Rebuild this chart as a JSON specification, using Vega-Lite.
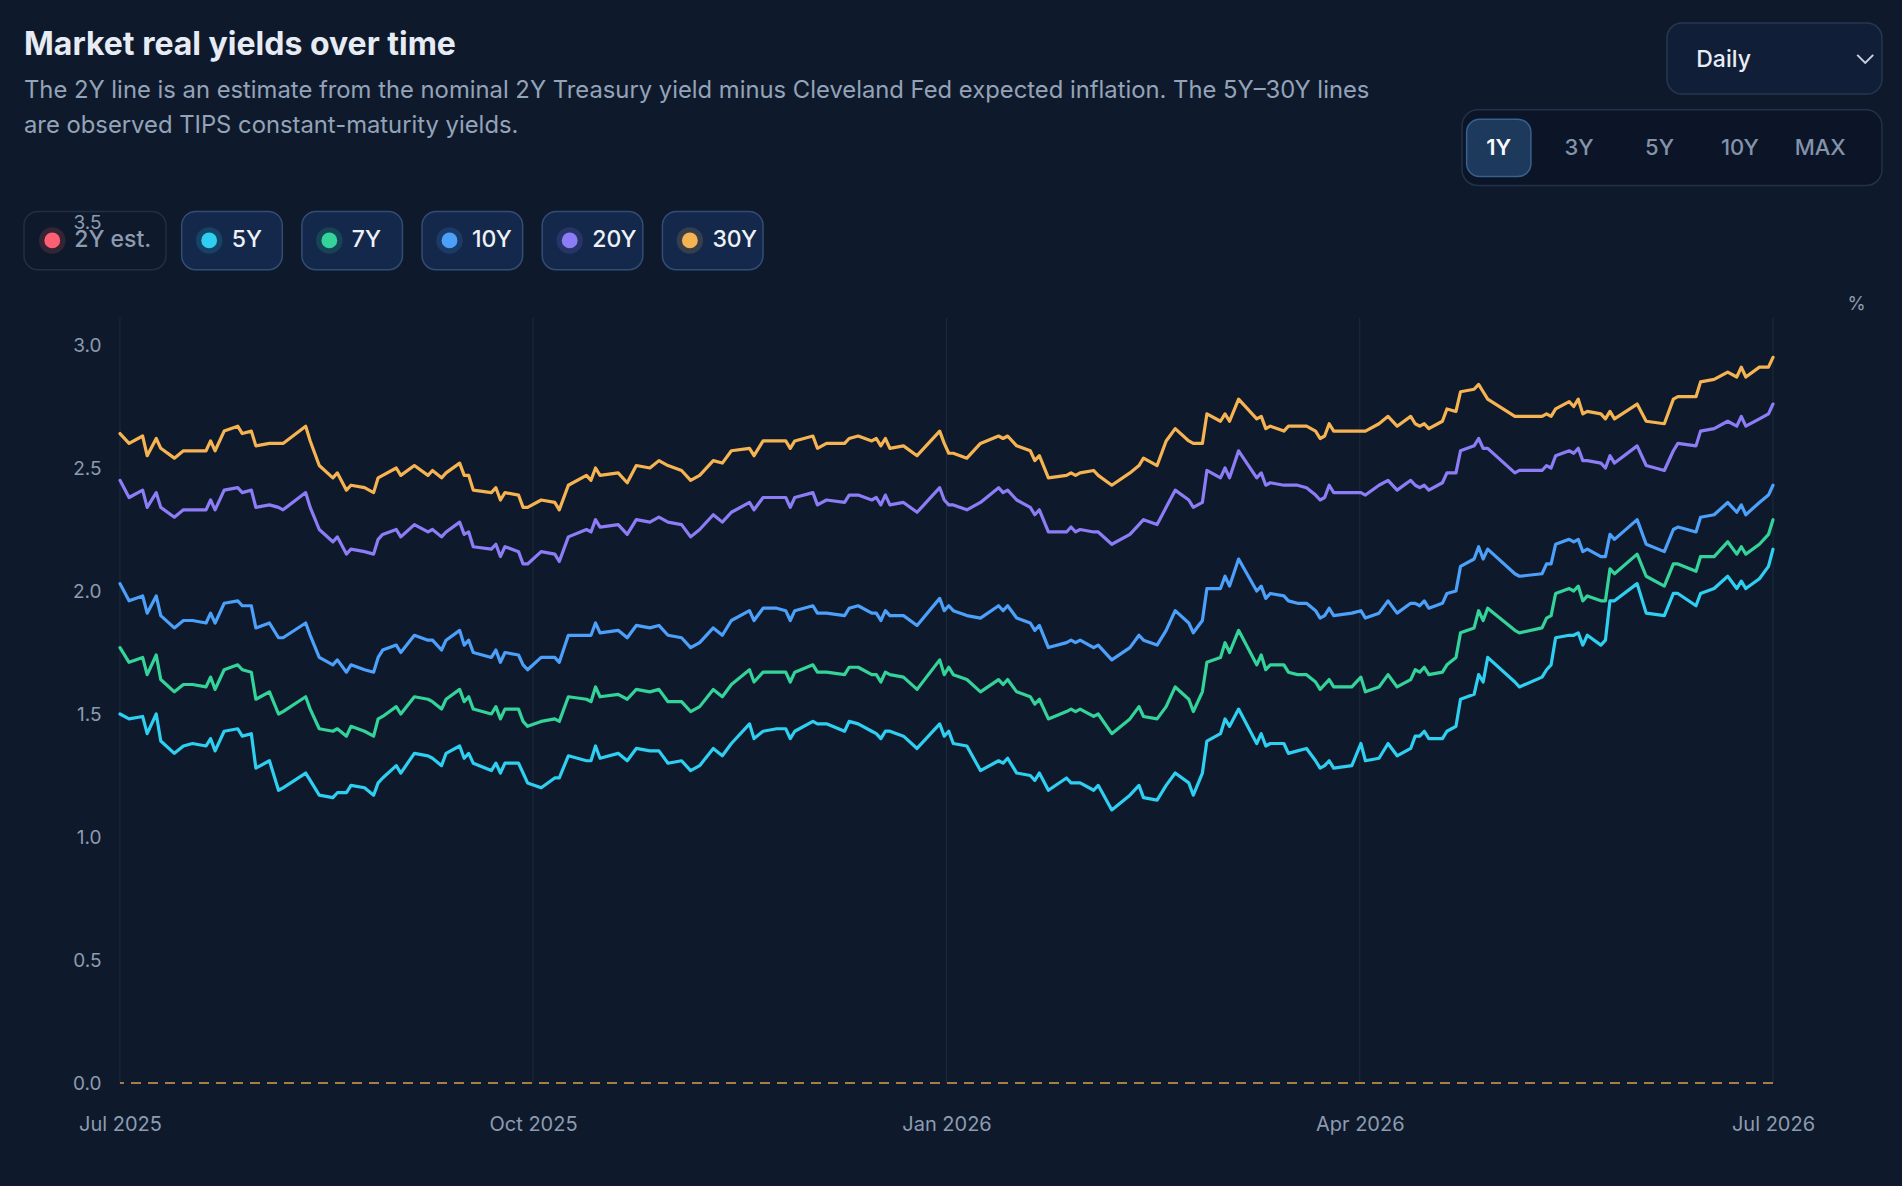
{
  "$schema": "https://vega.github.io/schema/vega-lite/v6.json",
  "width": 1653,
  "height": 861,
  "autosize": {"type": "none"},
  "padding": {"left": 120, "top": 222, "right": 129, "bottom": 103},
  "background": "#0e1a2c",
  "title": {
    "text": "Market real yields over time",
    "subtitle": [
      "The 2Y line is an estimate from the nominal 2Y Treasury yield minus Cleveland Fed expected inflation. The 5Y–30Y lines",
      "are observed TIPS constant-maturity yields."
    ],
    "anchor": "start",
    "frame": "group",
    "dx": -96,
    "offset": -116.5,
    "font": "Inter",
    "fontSize": 32,
    "fontWeight": 700,
    "color": "#e7ecf4",
    "subtitleFont": "Inter",
    "subtitleFontSize": 23.8,
    "subtitleColor": "#94a3b8",
    "subtitleLineHeight": 35,
    "subtitlePadding": 17
  },
  "config": {
    "font": "Inter",
    "view": {"stroke": null}
  },
  "datasets": {
    "yields": [
      {"d": "2025-07-01", "5Y": 1.50, "7Y": 1.77, "10Y": 2.03, "20Y": 2.45, "30Y": 2.64},
      {"d": "2025-07-03", "5Y": 1.48, "7Y": 1.71, "10Y": 1.96, "20Y": 2.38, "30Y": 2.60},
      {"d": "2025-07-06", "5Y": 1.49, "7Y": 1.73, "10Y": 1.98, "20Y": 2.41, "30Y": 2.63},
      {"d": "2025-07-07", "5Y": 1.42, "7Y": 1.66, "10Y": 1.91, "20Y": 2.34, "30Y": 2.55},
      {"d": "2025-07-09", "5Y": 1.50, "7Y": 1.74, "10Y": 1.98, "20Y": 2.40, "30Y": 2.62},
      {"d": "2025-07-10", "5Y": 1.39, "7Y": 1.64, "10Y": 1.90, "20Y": 2.34, "30Y": 2.58},
      {"d": "2025-07-13", "5Y": 1.34, "7Y": 1.59, "10Y": 1.85, "20Y": 2.30, "30Y": 2.54},
      {"d": "2025-07-15", "5Y": 1.37, "7Y": 1.62, "10Y": 1.88, "20Y": 2.33, "30Y": 2.57},
      {"d": "2025-07-17", "5Y": 1.38, "7Y": 1.62, "10Y": 1.88, "20Y": 2.33, "30Y": 2.57},
      {"d": "2025-07-20", "5Y": 1.37, "7Y": 1.61, "10Y": 1.87, "20Y": 2.33, "30Y": 2.57},
      {"d": "2025-07-21", "5Y": 1.40, "7Y": 1.65, "10Y": 1.91, "20Y": 2.37, "30Y": 2.61},
      {"d": "2025-07-22", "5Y": 1.35, "7Y": 1.60, "10Y": 1.87, "20Y": 2.33, "30Y": 2.57},
      {"d": "2025-07-24", "5Y": 1.43, "7Y": 1.68, "10Y": 1.95, "20Y": 2.41, "30Y": 2.65},
      {"d": "2025-07-27", "5Y": 1.44, "7Y": 1.70, "10Y": 1.96, "20Y": 2.42, "30Y": 2.67},
      {"d": "2025-07-28", "5Y": 1.41, "7Y": 1.68, "10Y": 1.94, "20Y": 2.40, "30Y": 2.64},
      {"d": "2025-07-30", "5Y": 1.42, "7Y": 1.67, "10Y": 1.94, "20Y": 2.41, "30Y": 2.65},
      {"d": "2025-07-31", "5Y": 1.28, "7Y": 1.56, "10Y": 1.85, "20Y": 2.34, "30Y": 2.59},
      {"d": "2025-08-03", "5Y": 1.31, "7Y": 1.59, "10Y": 1.87, "20Y": 2.35, "30Y": 2.60},
      {"d": "2025-08-05", "5Y": 1.19, "7Y": 1.50, "10Y": 1.81, "20Y": 2.34, "30Y": 2.60},
      {"d": "2025-08-06", "5Y": 1.20, "7Y": 1.51, "10Y": 1.81, "20Y": 2.33, "30Y": 2.60},
      {"d": "2025-08-11", "5Y": 1.26, "7Y": 1.57, "10Y": 1.87, "20Y": 2.40, "30Y": 2.67},
      {"d": "2025-08-12", "5Y": 1.23, "7Y": 1.52, "10Y": 1.82, "20Y": 2.34, "30Y": 2.61},
      {"d": "2025-08-14", "5Y": 1.17, "7Y": 1.44, "10Y": 1.73, "20Y": 2.25, "30Y": 2.51},
      {"d": "2025-08-17", "5Y": 1.16, "7Y": 1.43, "10Y": 1.70, "20Y": 2.20, "30Y": 2.46},
      {"d": "2025-08-18", "5Y": 1.18, "7Y": 1.44, "10Y": 1.72, "20Y": 2.22, "30Y": 2.48},
      {"d": "2025-08-20", "5Y": 1.18, "7Y": 1.41, "10Y": 1.67, "20Y": 2.15, "30Y": 2.41},
      {"d": "2025-08-21", "5Y": 1.21, "7Y": 1.45, "10Y": 1.70, "20Y": 2.17, "30Y": 2.43},
      {"d": "2025-08-24", "5Y": 1.20, "7Y": 1.43, "10Y": 1.68, "20Y": 2.16, "30Y": 2.42},
      {"d": "2025-08-26", "5Y": 1.17, "7Y": 1.41, "10Y": 1.67, "20Y": 2.15, "30Y": 2.40},
      {"d": "2025-08-27", "5Y": 1.22, "7Y": 1.48, "10Y": 1.73, "20Y": 2.21, "30Y": 2.46},
      {"d": "2025-08-28", "5Y": 1.24, "7Y": 1.49, "10Y": 1.76, "20Y": 2.23, "30Y": 2.47},
      {"d": "2025-08-31", "5Y": 1.29, "7Y": 1.53, "10Y": 1.78, "20Y": 2.25, "30Y": 2.50},
      {"d": "2025-09-01", "5Y": 1.26, "7Y": 1.50, "10Y": 1.75, "20Y": 2.22, "30Y": 2.47},
      {"d": "2025-09-04", "5Y": 1.34, "7Y": 1.57, "10Y": 1.82, "20Y": 2.27, "30Y": 2.51},
      {"d": "2025-09-07", "5Y": 1.33, "7Y": 1.56, "10Y": 1.80, "20Y": 2.24, "30Y": 2.47},
      {"d": "2025-09-08", "5Y": 1.32, "7Y": 1.55, "10Y": 1.80, "20Y": 2.25, "30Y": 2.49},
      {"d": "2025-09-10", "5Y": 1.29, "7Y": 1.52, "10Y": 1.76, "20Y": 2.22, "30Y": 2.46},
      {"d": "2025-09-11", "5Y": 1.34, "7Y": 1.56, "10Y": 1.80, "20Y": 2.24, "30Y": 2.48},
      {"d": "2025-09-14", "5Y": 1.37, "7Y": 1.60, "10Y": 1.84, "20Y": 2.28, "30Y": 2.52},
      {"d": "2025-09-15", "5Y": 1.32, "7Y": 1.55, "10Y": 1.78, "20Y": 2.23, "30Y": 2.47},
      {"d": "2025-09-16", "5Y": 1.34, "7Y": 1.57, "10Y": 1.80, "20Y": 2.24, "30Y": 2.47},
      {"d": "2025-09-17", "5Y": 1.30, "7Y": 1.52, "10Y": 1.75, "20Y": 2.18, "30Y": 2.41},
      {"d": "2025-09-21", "5Y": 1.27, "7Y": 1.50, "10Y": 1.73, "20Y": 2.17, "30Y": 2.40},
      {"d": "2025-09-22", "5Y": 1.30, "7Y": 1.53, "10Y": 1.76, "20Y": 2.19, "30Y": 2.42},
      {"d": "2025-09-23", "5Y": 1.26, "7Y": 1.48, "10Y": 1.71, "20Y": 2.14, "30Y": 2.37},
      {"d": "2025-09-24", "5Y": 1.30, "7Y": 1.52, "10Y": 1.75, "20Y": 2.18, "30Y": 2.40},
      {"d": "2025-09-27", "5Y": 1.30, "7Y": 1.52, "10Y": 1.74, "20Y": 2.16, "30Y": 2.39},
      {"d": "2025-09-28", "5Y": 1.26, "7Y": 1.47, "10Y": 1.70, "20Y": 2.11, "30Y": 2.34},
      {"d": "2025-09-29", "5Y": 1.22, "7Y": 1.45, "10Y": 1.68, "20Y": 2.11, "30Y": 2.34},
      {"d": "2025-10-02", "5Y": 1.20, "7Y": 1.47, "10Y": 1.73, "20Y": 2.16, "30Y": 2.37},
      {"d": "2025-10-05", "5Y": 1.24, "7Y": 1.48, "10Y": 1.73, "20Y": 2.15, "30Y": 2.36},
      {"d": "2025-10-06", "5Y": 1.24, "7Y": 1.47, "10Y": 1.71, "20Y": 2.12, "30Y": 2.33},
      {"d": "2025-10-08", "5Y": 1.33, "7Y": 1.57, "10Y": 1.82, "20Y": 2.22, "30Y": 2.43},
      {"d": "2025-10-12", "5Y": 1.31, "7Y": 1.56, "10Y": 1.82, "20Y": 2.25, "30Y": 2.47},
      {"d": "2025-10-13", "5Y": 1.31, "7Y": 1.55, "10Y": 1.82, "20Y": 2.24, "30Y": 2.45},
      {"d": "2025-10-14", "5Y": 1.37, "7Y": 1.61, "10Y": 1.87, "20Y": 2.29, "30Y": 2.50},
      {"d": "2025-10-15", "5Y": 1.32, "7Y": 1.57, "10Y": 1.83, "20Y": 2.26, "30Y": 2.47},
      {"d": "2025-10-19", "5Y": 1.34, "7Y": 1.58, "10Y": 1.84, "20Y": 2.27, "30Y": 2.48},
      {"d": "2025-10-21", "5Y": 1.31, "7Y": 1.56, "10Y": 1.81, "20Y": 2.23, "30Y": 2.44},
      {"d": "2025-10-23", "5Y": 1.36, "7Y": 1.60, "10Y": 1.86, "20Y": 2.29, "30Y": 2.51},
      {"d": "2025-10-26", "5Y": 1.35, "7Y": 1.59, "10Y": 1.85, "20Y": 2.28, "30Y": 2.50},
      {"d": "2025-10-28", "5Y": 1.35, "7Y": 1.60, "10Y": 1.86, "20Y": 2.30, "30Y": 2.53},
      {"d": "2025-10-30", "5Y": 1.30, "7Y": 1.55, "10Y": 1.82, "20Y": 2.28, "30Y": 2.51},
      {"d": "2025-11-02", "5Y": 1.31, "7Y": 1.55, "10Y": 1.81, "20Y": 2.27, "30Y": 2.49},
      {"d": "2025-11-04", "5Y": 1.27, "7Y": 1.51, "10Y": 1.77, "20Y": 2.22, "30Y": 2.45},
      {"d": "2025-11-06", "5Y": 1.29, "7Y": 1.53, "10Y": 1.79, "20Y": 2.25, "30Y": 2.47},
      {"d": "2025-11-09", "5Y": 1.36, "7Y": 1.60, "10Y": 1.85, "20Y": 2.31, "30Y": 2.53},
      {"d": "2025-11-11", "5Y": 1.33, "7Y": 1.57, "10Y": 1.82, "20Y": 2.28, "30Y": 2.52},
      {"d": "2025-11-13", "5Y": 1.38, "7Y": 1.62, "10Y": 1.88, "20Y": 2.32, "30Y": 2.57},
      {"d": "2025-11-17", "5Y": 1.46, "7Y": 1.68, "10Y": 1.92, "20Y": 2.36, "30Y": 2.58},
      {"d": "2025-11-18", "5Y": 1.40, "7Y": 1.63, "10Y": 1.88, "20Y": 2.33, "30Y": 2.55},
      {"d": "2025-11-20", "5Y": 1.43, "7Y": 1.67, "10Y": 1.93, "20Y": 2.38, "30Y": 2.61},
      {"d": "2025-11-23", "5Y": 1.44, "7Y": 1.67, "10Y": 1.93, "20Y": 2.38, "30Y": 2.61},
      {"d": "2025-11-25", "5Y": 1.44, "7Y": 1.67, "10Y": 1.92, "20Y": 2.38, "30Y": 2.61},
      {"d": "2025-11-26", "5Y": 1.40, "7Y": 1.63, "10Y": 1.88, "20Y": 2.34, "30Y": 2.58},
      {"d": "2025-11-27", "5Y": 1.43, "7Y": 1.67, "10Y": 1.92, "20Y": 2.38, "30Y": 2.61},
      {"d": "2025-12-01", "5Y": 1.47, "7Y": 1.70, "10Y": 1.94, "20Y": 2.40, "30Y": 2.63},
      {"d": "2025-12-02", "5Y": 1.46, "7Y": 1.67, "10Y": 1.91, "20Y": 2.35, "30Y": 2.58},
      {"d": "2025-12-04", "5Y": 1.46, "7Y": 1.67, "10Y": 1.91, "20Y": 2.37, "30Y": 2.60},
      {"d": "2025-12-08", "5Y": 1.43, "7Y": 1.66, "10Y": 1.90, "20Y": 2.36, "30Y": 2.60},
      {"d": "2025-12-09", "5Y": 1.47, "7Y": 1.69, "10Y": 1.93, "20Y": 2.39, "30Y": 2.62},
      {"d": "2025-12-11", "5Y": 1.46, "7Y": 1.69, "10Y": 1.94, "20Y": 2.39, "30Y": 2.63},
      {"d": "2025-12-14", "5Y": 1.43, "7Y": 1.66, "10Y": 1.91, "20Y": 2.37, "30Y": 2.61},
      {"d": "2025-12-15", "5Y": 1.42, "7Y": 1.66, "10Y": 1.91, "20Y": 2.38, "30Y": 2.62},
      {"d": "2025-12-16", "5Y": 1.40, "7Y": 1.63, "10Y": 1.88, "20Y": 2.35, "30Y": 2.59},
      {"d": "2025-12-17", "5Y": 1.43, "7Y": 1.67, "10Y": 1.92, "20Y": 2.39, "30Y": 2.62},
      {"d": "2025-12-18", "5Y": 1.43, "7Y": 1.66, "10Y": 1.90, "20Y": 2.35, "30Y": 2.58},
      {"d": "2025-12-21", "5Y": 1.41, "7Y": 1.65, "10Y": 1.90, "20Y": 2.36, "30Y": 2.59},
      {"d": "2025-12-24", "5Y": 1.36, "7Y": 1.60, "10Y": 1.86, "20Y": 2.32, "30Y": 2.55},
      {"d": "2025-12-29", "5Y": 1.46, "7Y": 1.72, "10Y": 1.97, "20Y": 2.42, "30Y": 2.65},
      {"d": "2025-12-30", "5Y": 1.41, "7Y": 1.66, "10Y": 1.92, "20Y": 2.37, "30Y": 2.60},
      {"d": "2025-12-31", "5Y": 1.43, "7Y": 1.69, "10Y": 1.94, "20Y": 2.35, "30Y": 2.56},
      {"d": "2026-01-01", "5Y": 1.38, "7Y": 1.66, "10Y": 1.92, "20Y": 2.35, "30Y": 2.56},
      {"d": "2026-01-04", "5Y": 1.37, "7Y": 1.64, "10Y": 1.90, "20Y": 2.33, "30Y": 2.54},
      {"d": "2026-01-07", "5Y": 1.27, "7Y": 1.59, "10Y": 1.89, "20Y": 2.36, "30Y": 2.60},
      {"d": "2026-01-11", "5Y": 1.31, "7Y": 1.64, "10Y": 1.94, "20Y": 2.42, "30Y": 2.63},
      {"d": "2026-01-12", "5Y": 1.30, "7Y": 1.62, "10Y": 1.92, "20Y": 2.40, "30Y": 2.62},
      {"d": "2026-01-13", "5Y": 1.32, "7Y": 1.64, "10Y": 1.94, "20Y": 2.41, "30Y": 2.63},
      {"d": "2026-01-15", "5Y": 1.26, "7Y": 1.59, "10Y": 1.89, "20Y": 2.37, "30Y": 2.59},
      {"d": "2026-01-18", "5Y": 1.25, "7Y": 1.57, "10Y": 1.87, "20Y": 2.34, "30Y": 2.57},
      {"d": "2026-01-19", "5Y": 1.23, "7Y": 1.54, "10Y": 1.84, "20Y": 2.31, "30Y": 2.53},
      {"d": "2026-01-20", "5Y": 1.26, "7Y": 1.56, "10Y": 1.86, "20Y": 2.33, "30Y": 2.55},
      {"d": "2026-01-22", "5Y": 1.19, "7Y": 1.48, "10Y": 1.77, "20Y": 2.24, "30Y": 2.46},
      {"d": "2026-01-26", "5Y": 1.24, "7Y": 1.51, "10Y": 1.79, "20Y": 2.24, "30Y": 2.47},
      {"d": "2026-01-27", "5Y": 1.22, "7Y": 1.52, "10Y": 1.80, "20Y": 2.26, "30Y": 2.48},
      {"d": "2026-01-28", "5Y": 1.22, "7Y": 1.51, "10Y": 1.79, "20Y": 2.24, "30Y": 2.47},
      {"d": "2026-01-29", "5Y": 1.22, "7Y": 1.52, "10Y": 1.80, "20Y": 2.25, "30Y": 2.48},
      {"d": "2026-02-01", "5Y": 1.19, "7Y": 1.49, "10Y": 1.77, "20Y": 2.24, "30Y": 2.49},
      {"d": "2026-02-02", "5Y": 1.21, "7Y": 1.50, "10Y": 1.78, "20Y": 2.24, "30Y": 2.47},
      {"d": "2026-02-05", "5Y": 1.11, "7Y": 1.42, "10Y": 1.72, "20Y": 2.19, "30Y": 2.43},
      {"d": "2026-02-09", "5Y": 1.17, "7Y": 1.48, "10Y": 1.77, "20Y": 2.23, "30Y": 2.48},
      {"d": "2026-02-11", "5Y": 1.21, "7Y": 1.53, "10Y": 1.82, "20Y": 2.27, "30Y": 2.51},
      {"d": "2026-02-12", "5Y": 1.16, "7Y": 1.49, "10Y": 1.80, "20Y": 2.29, "30Y": 2.54},
      {"d": "2026-02-15", "5Y": 1.15, "7Y": 1.48, "10Y": 1.78, "20Y": 2.27, "30Y": 2.51},
      {"d": "2026-02-17", "5Y": 1.21, "7Y": 1.53, "10Y": 1.84, "20Y": 2.34, "30Y": 2.61},
      {"d": "2026-02-19", "5Y": 1.26, "7Y": 1.61, "10Y": 1.92, "20Y": 2.41, "30Y": 2.66},
      {"d": "2026-02-22", "5Y": 1.22, "7Y": 1.56, "10Y": 1.87, "20Y": 2.37, "30Y": 2.61},
      {"d": "2026-02-23", "5Y": 1.17, "7Y": 1.51, "10Y": 1.83, "20Y": 2.34, "30Y": 2.60},
      {"d": "2026-02-25", "5Y": 1.26, "7Y": 1.59, "10Y": 1.88, "20Y": 2.36, "30Y": 2.60},
      {"d": "2026-02-26", "5Y": 1.39, "7Y": 1.71, "10Y": 2.01, "20Y": 2.49, "30Y": 2.72},
      {"d": "2026-03-01", "5Y": 1.42, "7Y": 1.73, "10Y": 2.01, "20Y": 2.46, "30Y": 2.69},
      {"d": "2026-03-02", "5Y": 1.48, "7Y": 1.79, "10Y": 2.06, "20Y": 2.50, "30Y": 2.72},
      {"d": "2026-03-03", "5Y": 1.45, "7Y": 1.75, "10Y": 2.02, "20Y": 2.46, "30Y": 2.69},
      {"d": "2026-03-05", "5Y": 1.52, "7Y": 1.84, "10Y": 2.13, "20Y": 2.57, "30Y": 2.78},
      {"d": "2026-03-09", "5Y": 1.38, "7Y": 1.70, "10Y": 2.00, "20Y": 2.46, "30Y": 2.70},
      {"d": "2026-03-10", "5Y": 1.42, "7Y": 1.74, "10Y": 2.02, "20Y": 2.48, "30Y": 2.71},
      {"d": "2026-03-11", "5Y": 1.37, "7Y": 1.68, "10Y": 1.97, "20Y": 2.43, "30Y": 2.66},
      {"d": "2026-03-12", "5Y": 1.38, "7Y": 1.70, "10Y": 1.99, "20Y": 2.44, "30Y": 2.67},
      {"d": "2026-03-15", "5Y": 1.38, "7Y": 1.70, "10Y": 1.98, "20Y": 2.43, "30Y": 2.65},
      {"d": "2026-03-16", "5Y": 1.34, "7Y": 1.67, "10Y": 1.96, "20Y": 2.43, "30Y": 2.67},
      {"d": "2026-03-18", "5Y": 1.35, "7Y": 1.66, "10Y": 1.95, "20Y": 2.43, "30Y": 2.67},
      {"d": "2026-03-20", "5Y": 1.36, "7Y": 1.66, "10Y": 1.95, "20Y": 2.42, "30Y": 2.67},
      {"d": "2026-03-22", "5Y": 1.31, "7Y": 1.63, "10Y": 1.92, "20Y": 2.39, "30Y": 2.65},
      {"d": "2026-03-23", "5Y": 1.28, "7Y": 1.60, "10Y": 1.89, "20Y": 2.37, "30Y": 2.62},
      {"d": "2026-03-24", "5Y": 1.29, "7Y": 1.62, "10Y": 1.90, "20Y": 2.38, "30Y": 2.63},
      {"d": "2026-03-25", "5Y": 1.31, "7Y": 1.64, "10Y": 1.93, "20Y": 2.43, "30Y": 2.68},
      {"d": "2026-03-26", "5Y": 1.28, "7Y": 1.61, "10Y": 1.90, "20Y": 2.40, "30Y": 2.65},
      {"d": "2026-03-30", "5Y": 1.29, "7Y": 1.61, "10Y": 1.91, "20Y": 2.40, "30Y": 2.65},
      {"d": "2026-04-01", "5Y": 1.38, "7Y": 1.65, "10Y": 1.92, "20Y": 2.40, "30Y": 2.65},
      {"d": "2026-04-02", "5Y": 1.31, "7Y": 1.59, "10Y": 1.89, "20Y": 2.39, "30Y": 2.65},
      {"d": "2026-04-05", "5Y": 1.32, "7Y": 1.61, "10Y": 1.91, "20Y": 2.43, "30Y": 2.68},
      {"d": "2026-04-07", "5Y": 1.38, "7Y": 1.66, "10Y": 1.96, "20Y": 2.45, "30Y": 2.71},
      {"d": "2026-04-09", "5Y": 1.33, "7Y": 1.61, "10Y": 1.91, "20Y": 2.41, "30Y": 2.67},
      {"d": "2026-04-12", "5Y": 1.36, "7Y": 1.64, "10Y": 1.95, "20Y": 2.45, "30Y": 2.71},
      {"d": "2026-04-13", "5Y": 1.41, "7Y": 1.68, "10Y": 1.95, "20Y": 2.43, "30Y": 2.68},
      {"d": "2026-04-14", "5Y": 1.41, "7Y": 1.67, "10Y": 1.94, "20Y": 2.42, "30Y": 2.67},
      {"d": "2026-04-15", "5Y": 1.43, "7Y": 1.69, "10Y": 1.96, "20Y": 2.43, "30Y": 2.68},
      {"d": "2026-04-16", "5Y": 1.40, "7Y": 1.66, "10Y": 1.93, "20Y": 2.41, "30Y": 2.66},
      {"d": "2026-04-19", "5Y": 1.40, "7Y": 1.67, "10Y": 1.95, "20Y": 2.44, "30Y": 2.69},
      {"d": "2026-04-20", "5Y": 1.43, "7Y": 1.70, "10Y": 1.99, "20Y": 2.48, "30Y": 2.74},
      {"d": "2026-04-22", "5Y": 1.45, "7Y": 1.73, "10Y": 2.00, "20Y": 2.48, "30Y": 2.73},
      {"d": "2026-04-23", "5Y": 1.56, "7Y": 1.83, "10Y": 2.10, "20Y": 2.57, "30Y": 2.81},
      {"d": "2026-04-26", "5Y": 1.58, "7Y": 1.85, "10Y": 2.13, "20Y": 2.59, "30Y": 2.82},
      {"d": "2026-04-27", "5Y": 1.66, "7Y": 1.92, "10Y": 2.18, "20Y": 2.62, "30Y": 2.84},
      {"d": "2026-04-28", "5Y": 1.63, "7Y": 1.88, "10Y": 2.13, "20Y": 2.58, "30Y": 2.81},
      {"d": "2026-04-29", "5Y": 1.73, "7Y": 1.93, "10Y": 2.17, "20Y": 2.58, "30Y": 2.78},
      {"d": "2026-05-05", "5Y": 1.63, "7Y": 1.84, "10Y": 2.07, "20Y": 2.48, "30Y": 2.71},
      {"d": "2026-05-06", "5Y": 1.61, "7Y": 1.83, "10Y": 2.06, "20Y": 2.49, "30Y": 2.71},
      {"d": "2026-05-11", "5Y": 1.65, "7Y": 1.85, "10Y": 2.07, "20Y": 2.49, "30Y": 2.71},
      {"d": "2026-05-12", "5Y": 1.68, "7Y": 1.89, "10Y": 2.11, "20Y": 2.51, "30Y": 2.72},
      {"d": "2026-05-13", "5Y": 1.70, "7Y": 1.90, "10Y": 2.11, "20Y": 2.50, "30Y": 2.71},
      {"d": "2026-05-14", "5Y": 1.81, "7Y": 1.99, "10Y": 2.19, "20Y": 2.55, "30Y": 2.74},
      {"d": "2026-05-17", "5Y": 1.82, "7Y": 2.01, "10Y": 2.21, "20Y": 2.57, "30Y": 2.77},
      {"d": "2026-05-18", "5Y": 1.82, "7Y": 2.00, "10Y": 2.20, "20Y": 2.56, "30Y": 2.75},
      {"d": "2026-05-19", "5Y": 1.83, "7Y": 2.02, "10Y": 2.21, "20Y": 2.58, "30Y": 2.78},
      {"d": "2026-05-20", "5Y": 1.78, "7Y": 1.96, "10Y": 2.16, "20Y": 2.53, "30Y": 2.72},
      {"d": "2026-05-21", "5Y": 1.82, "7Y": 1.98, "10Y": 2.17, "20Y": 2.53, "30Y": 2.73},
      {"d": "2026-05-24", "5Y": 1.78, "7Y": 1.96, "10Y": 2.14, "20Y": 2.52, "30Y": 2.72},
      {"d": "2026-05-25", "5Y": 1.80, "7Y": 1.96, "10Y": 2.14, "20Y": 2.50, "30Y": 2.70},
      {"d": "2026-05-26", "5Y": 1.96, "7Y": 2.09, "10Y": 2.23, "20Y": 2.55, "30Y": 2.73},
      {"d": "2026-05-27", "5Y": 1.96, "7Y": 2.07, "10Y": 2.21, "20Y": 2.52, "30Y": 2.70},
      {"d": "2026-06-01", "5Y": 2.03, "7Y": 2.15, "10Y": 2.29, "20Y": 2.59, "30Y": 2.76},
      {"d": "2026-06-03", "5Y": 1.91, "7Y": 2.06, "10Y": 2.19, "20Y": 2.51, "30Y": 2.69},
      {"d": "2026-06-07", "5Y": 1.90, "7Y": 2.02, "10Y": 2.16, "20Y": 2.49, "30Y": 2.68},
      {"d": "2026-06-09", "5Y": 1.99, "7Y": 2.11, "10Y": 2.25, "20Y": 2.57, "30Y": 2.78},
      {"d": "2026-06-10", "5Y": 1.99, "7Y": 2.11, "10Y": 2.26, "20Y": 2.60, "30Y": 2.79},
      {"d": "2026-06-14", "5Y": 1.94, "7Y": 2.08, "10Y": 2.24, "20Y": 2.59, "30Y": 2.79},
      {"d": "2026-06-15", "5Y": 1.99, "7Y": 2.14, "10Y": 2.30, "20Y": 2.65, "30Y": 2.85},
      {"d": "2026-06-18", "5Y": 2.01, "7Y": 2.14, "10Y": 2.31, "20Y": 2.66, "30Y": 2.86},
      {"d": "2026-06-21", "5Y": 2.06, "7Y": 2.20, "10Y": 2.36, "20Y": 2.69, "30Y": 2.89},
      {"d": "2026-06-23", "5Y": 2.01, "7Y": 2.15, "10Y": 2.32, "20Y": 2.67, "30Y": 2.87},
      {"d": "2026-06-24", "5Y": 2.04, "7Y": 2.18, "10Y": 2.35, "20Y": 2.71, "30Y": 2.91},
      {"d": "2026-06-25", "5Y": 2.01, "7Y": 2.15, "10Y": 2.31, "20Y": 2.67, "30Y": 2.87},
      {"d": "2026-06-28", "5Y": 2.05, "7Y": 2.19, "10Y": 2.36, "20Y": 2.70, "30Y": 2.91},
      {"d": "2026-06-30", "5Y": 2.10, "7Y": 2.23, "10Y": 2.39, "20Y": 2.72, "30Y": 2.91},
      {"d": "2026-07-01", "5Y": 2.17, "7Y": 2.29, "10Y": 2.43, "20Y": 2.76, "30Y": 2.95}
    ],
    "quarters": [
      {"d": "2025-07-01T00:00:00Z"},
      {"d": "2025-09-30T05:00:00Z"},
      {"d": "2025-12-30T12:00:00Z"},
      {"d": "2026-03-31T18:00:00Z"},
      {"d": "2026-07-01T00:00:00Z"}
    ],
    "activePills": [
      {"k": "5Y"}, {"k": "7Y"}, {"k": "10Y"}, {"k": "20Y"}, {"k": "30Y"}
    ],
    "ranges": [
      {"k": "1Y"}, {"k": "3Y"}, {"k": "5Y"}, {"k": "10Y"}, {"k": "MAX"}
    ]
  },
  "resolve": {"scale": {"x": "independent", "y": "independent"}},
  "layer": [
    {
      "data": {"name": "quarters"},
      "mark": {"type": "rule", "color": "#1c2838", "strokeWidth": 1.2},
      "encoding": {
        "x": {"field": "d", "type": "temporal", "scale": {"type": "utc", "domain": [{"year": 2025, "month": 7, "date": 1, "utc": true}, {"year": 2026, "month": 7, "date": 1, "utc": true}]}, "axis": null},
        "y": {"datum": 0, "type": "quantitative", "scale": {"domain": [0, 3.5], "nice": false}, "axis": null},
        "y2": {"datum": 3.111}
      }
    },
    {
      "data": {"name": "yields"},
      "transform": [
        {"fold": ["5Y", "7Y", "10Y", "20Y", "30Y"], "as": ["series", "value"]}
      ],
      "mark": {"type": "line", "strokeWidth": 3.2, "strokeJoin": "round", "strokeCap": "round"},
      "encoding": {
        "x": {
          "field": "d",
          "type": "temporal",
          "scale": {"type": "utc", "domain": [{"year": 2025, "month": 7, "date": 1, "utc": true}, {"year": 2026, "month": 7, "date": 1, "utc": true}]},
          "axis": {
            "values": [
              {"year": 2025, "month": 7, "date": 1, "utc": true},
              {"year": 2025, "month": 9, "date": 30, "hours": 5, "utc": true},
              {"year": 2025, "month": 12, "date": 30, "hours": 12, "utc": true},
              {"year": 2026, "month": 3, "date": 31, "hours": 18, "utc": true},
              {"year": 2026, "month": 7, "date": 1, "utc": true}
            ],
            "labelExpr": "utcFormat(toNumber(datum.value) + 172800000, '%b %Y')",
            "grid": false,
            "domain": false,
            "ticks": false,
            "labelPadding": 31,
            "labelFontSize": 20,
            "labelColor": "#8d9bb0",
            "labelFlush": false,
            "labelOverlap": false,
            "title": null
          }
        },
        "y": {
          "field": "value",
          "type": "quantitative",
          "scale": {"domain": [0, 3.5], "nice": false},
          "axis": {
            "values": [0, 0.5, 1, 1.5, 2, 2.5, 3, 3.5],
            "format": ".1f",
            "domain": false,
            "ticks": false,
            "labelPadding": 19,
            "labelFontSize": 19,
            "labelColor": "#8d9bb0",
            "gridColor": {"condition": {"test": "datum.value === 0", "value": "rgba(0,0,0,0)"}, "value": "#1c2838"},
            "gridWidth": 1.2,
            "title": "%",
            "titleAngle": 0,
            "titleX": 1736,
            "titleY": 81,
            "titleAlign": "center",
            "titleBaseline": "middle",
            "titleFontSize": 18.5,
            "titleFontWeight": "normal",
            "titleColor": "#8d9bb0"
          }
        },
        "color": {
          "field": "series",
          "type": "nominal",
          "scale": {"domain": ["2Y est.", "5Y", "7Y", "10Y", "20Y", "30Y"], "range": ["#ff5f73", "#2ecff0", "#34d399", "#4ca0fa", "#8c7cf5", "#f6b352"]},
          "legend": null
        }
      }
    },
    {
      "data": {"values": [{}]},
      "mark": {"type": "rule", "color": "#a57d45", "strokeWidth": 2, "strokeDash": [10, 7]},
      "encoding": {
        "y": {"datum": 0, "type": "quantitative", "scale": {"domain": [0, 3.5], "nice": false}, "axis": null}
      }
    },
    {
      "data": {"values": [{"k": "2Y est."}]},
      "encoding": {
        "x": {"field": "k", "type": "nominal", "scale": {"type": "band", "range": [-96, 46], "paddingInner": 0, "paddingOuter": 0}, "axis": null}
      },
      "layer": [
        {
          "mark": {"type": "bar", "cornerRadius": 14, "strokeWidth": 1.5, "fill": "rgba(0,0,0,0)", "stroke": "#222f43"},
          "encoding": {
            "y": {"datum": 3.306, "type": "quantitative", "scale": {"domain": [0, 3.5], "nice": false}, "axis": null},
            "y2": {"datum": 3.543}
          }
        },
        {
          "mark": {"type": "point", "filled": true, "size": 700, "opacity": 0.16},
          "encoding": {
            "x": {"field": "k", "type": "nominal", "bandPosition": 0.199, "scale": {"type": "band", "range": [-96, 46], "paddingInner": 0, "paddingOuter": 0}, "axis": null},
            "y": {"datum": 3.425, "type": "quantitative", "scale": {"domain": [0, 3.5], "nice": false}, "axis": null},
            "color": {"field": "k", "type": "nominal", "scale": {"domain": ["2Y est.", "5Y", "7Y", "10Y", "20Y", "30Y"], "range": ["#ff5f73", "#2ecff0", "#34d399", "#4ca0fa", "#8c7cf5", "#f6b352"]}, "legend": null}
          }
        },
        {
          "mark": {"type": "point", "filled": true, "size": 250, "opacity": 1},
          "encoding": {
            "x": {"field": "k", "type": "nominal", "bandPosition": 0.199, "scale": {"type": "band", "range": [-96, 46], "paddingInner": 0, "paddingOuter": 0}, "axis": null},
            "y": {"datum": 3.425, "type": "quantitative", "scale": {"domain": [0, 3.5], "nice": false}, "axis": null},
            "color": {"field": "k", "type": "nominal", "scale": {"domain": ["2Y est.", "5Y", "7Y", "10Y", "20Y", "30Y"], "range": ["#ff5f73", "#2ecff0", "#34d399", "#4ca0fa", "#8c7cf5", "#f6b352"]}, "legend": null}
          }
        },
        {
          "mark": {"type": "text", "align": "left", "baseline": "middle", "fontSize": 23, "font": "Inter", "fontWeight": 500, "color": "#8d9bb0"},
          "encoding": {
            "x": {"field": "k", "type": "nominal", "bandPosition": 0.354, "scale": {"type": "band", "range": [-96, 46], "paddingInner": 0, "paddingOuter": 0}, "axis": null},
            "y": {"datum": 3.425, "type": "quantitative", "scale": {"domain": [0, 3.5], "nice": false}, "axis": null},
            "text": {"field": "k"}
          }
        }
      ]
    },
    {
      "data": {"name": "activePills"},
      "encoding": {
        "x": {"field": "k", "type": "nominal", "scale": {"type": "band", "domain": ["5Y", "7Y", "10Y", "20Y", "30Y"], "range": [61.7, 643], "paddingInner": 0.163, "paddingOuter": 0}, "axis": null}
      },
      "layer": [
        {
          "mark": {"type": "bar", "cornerRadius": 14, "strokeWidth": 1.5, "fill": "#13284a", "stroke": "#324d74"},
          "encoding": {
            "y": {"datum": 3.306, "type": "quantitative", "scale": {"domain": [0, 3.5], "nice": false}, "axis": null},
            "y2": {"datum": 3.543}
          }
        },
        {
          "mark": {"type": "point", "filled": true, "size": 700, "opacity": 0.16},
          "encoding": {
            "x": {"field": "k", "type": "nominal", "bandPosition": 0.273, "scale": {"type": "band", "domain": ["5Y", "7Y", "10Y", "20Y", "30Y"], "range": [61.7, 643], "paddingInner": 0.163, "paddingOuter": 0}, "axis": null},
            "y": {"datum": 3.425, "type": "quantitative", "scale": {"domain": [0, 3.5], "nice": false}, "axis": null},
            "color": {"field": "k", "type": "nominal", "scale": {"domain": ["2Y est.", "5Y", "7Y", "10Y", "20Y", "30Y"], "range": ["#ff5f73", "#2ecff0", "#34d399", "#4ca0fa", "#8c7cf5", "#f6b352"]}, "legend": null}
          }
        },
        {
          "mark": {"type": "point", "filled": true, "size": 250, "opacity": 1},
          "encoding": {
            "x": {"field": "k", "type": "nominal", "bandPosition": 0.273, "scale": {"type": "band", "domain": ["5Y", "7Y", "10Y", "20Y", "30Y"], "range": [61.7, 643], "paddingInner": 0.163, "paddingOuter": 0}, "axis": null},
            "y": {"datum": 3.425, "type": "quantitative", "scale": {"domain": [0, 3.5], "nice": false}, "axis": null},
            "color": {"field": "k", "type": "nominal", "scale": {"domain": ["2Y est.", "5Y", "7Y", "10Y", "20Y", "30Y"], "range": ["#ff5f73", "#2ecff0", "#34d399", "#4ca0fa", "#8c7cf5", "#f6b352"]}, "legend": null}
          }
        },
        {
          "mark": {"type": "text", "align": "left", "baseline": "middle", "fontSize": 23, "font": "Inter", "fontWeight": 500, "color": "#eef2f7"},
          "encoding": {
            "x": {"field": "k", "type": "nominal", "bandPosition": 0.497, "scale": {"type": "band", "domain": ["5Y", "7Y", "10Y", "20Y", "30Y"], "range": [61.7, 643], "paddingInner": 0.163, "paddingOuter": 0}, "axis": null},
            "y": {"datum": 3.425, "type": "quantitative", "scale": {"domain": [0, 3.5], "nice": false}, "axis": null},
            "text": {"field": "k"}
          }
        }
      ]
    },
    {
      "data": {"values": [{"k": "range"}]},
      "mark": {"type": "bar", "cornerRadius": 16, "fill": "#0b1527", "stroke": "#22324b", "strokeWidth": 1.5},
      "encoding": {
        "x": {"field": "k", "type": "nominal", "scale": {"type": "band", "range": [1342, 1762], "paddingInner": 0, "paddingOuter": 0}, "axis": null},
        "y": {"datum": 3.648, "type": "quantitative", "scale": {"domain": [0, 3.5], "nice": false}, "axis": null},
        "y2": {"datum": 3.956}
      }
    },
    {
      "data": {"values": [{"k": "Daily"}]},
      "encoding": {
        "x": {"field": "k", "type": "nominal", "scale": {"type": "band", "range": [1547, 1762], "paddingInner": 0, "paddingOuter": 0}, "axis": null}
      },
      "layer": [
        {
          "mark": {"type": "bar", "cornerRadius": 15, "fill": "#101f37", "stroke": "#26374f", "strokeWidth": 1.5},
          "encoding": {
            "y": {"datum": 4.02, "type": "quantitative", "scale": {"domain": [0, 3.5], "nice": false}, "axis": null},
            "y2": {"datum": 4.309}
          }
        },
        {
          "mark": {"type": "text", "align": "left", "baseline": "middle", "fontSize": 23, "font": "Inter", "fontWeight": 500, "color": "#e8edf5"},
          "encoding": {
            "x": {"field": "k", "type": "nominal", "bandPosition": 0.136, "scale": {"type": "band", "range": [1547, 1762], "paddingInner": 0, "paddingOuter": 0}, "axis": null},
            "y": {"datum": 4.159, "type": "quantitative", "scale": {"domain": [0, 3.5], "nice": false}, "axis": null},
            "text": {"field": "k"}
          }
        },
        {
          "mark": {"type": "point", "shape": "M-1,-0.5L0,0.5L1,-0.5", "filled": false, "size": 256, "strokeWidth": 2, "color": "#c8d1de", "opacity": 1},
          "encoding": {
            "x": {"field": "k", "type": "nominal", "bandPosition": 0.922, "scale": {"type": "band", "range": [1547, 1762], "paddingInner": 0, "paddingOuter": 0}, "axis": null},
            "y": {"datum": 4.163, "type": "quantitative", "scale": {"domain": [0, 3.5], "nice": false}, "axis": null}
          }
        }
      ]
    },
    {
      "data": {"name": "ranges"},
      "encoding": {
        "x": {"field": "k", "type": "nominal", "scale": {"type": "band", "domain": ["1Y", "3Y", "5Y", "10Y", "MAX"], "range": [1338.6, 1740.4], "paddingInner": 0, "paddingOuter": 0}, "axis": null}
      },
      "layer": [
        {
          "transform": [{"filter": "datum.k === '1Y'"}],
          "mark": {"type": "bar", "width": {"band": 0.8}, "cornerRadius": 13, "fill": "#1d395b", "stroke": "#39618f", "strokeWidth": 1.5},
          "encoding": {
            "y": {"datum": 3.685, "type": "quantitative", "scale": {"domain": [0, 3.5], "nice": false}, "axis": null},
            "y2": {"datum": 3.918}
          }
        },
        {
          "transform": [{"filter": "datum.k === '1Y'"}],
          "mark": {"type": "text", "align": "center", "baseline": "middle", "fontSize": 22, "font": "Inter", "fontWeight": 600, "color": "#f8fafc"},
          "encoding": {
            "y": {"datum": 3.8, "type": "quantitative", "scale": {"domain": [0, 3.5], "nice": false}, "axis": null},
            "text": {"field": "k"}
          }
        },
        {
          "transform": [{"filter": "datum.k !== '1Y'"}],
          "mark": {"type": "text", "align": "center", "baseline": "middle", "fontSize": 22, "font": "Inter", "fontWeight": 500, "color": "#8393a9"},
          "encoding": {
            "y": {"datum": 3.8, "type": "quantitative", "scale": {"domain": [0, 3.5], "nice": false}, "axis": null},
            "text": {"field": "k"}
          }
        }
      ]
    }
  ]
}
